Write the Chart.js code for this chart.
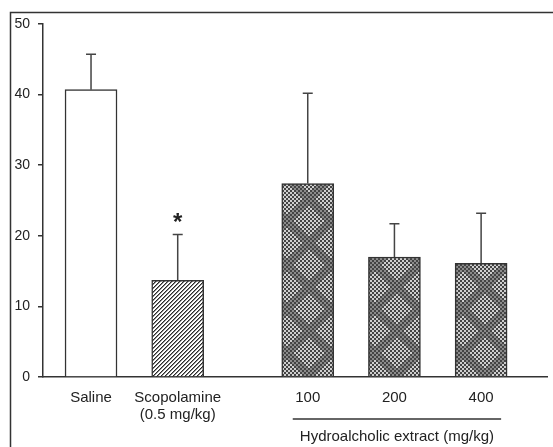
<!DOCTYPE html>
<html>
<head>
<meta charset="utf-8">
<script src="https://cdn.jsdelivr.net/npm/chart.js@4"></script>
<style>
  html, body { margin: 0; padding: 0; background: #fff; }
  #wrap { width: 553px; height: 447px; }
</style>
</head>
<body>
<div id="wrap"><canvas id="barChart" width="553" height="447"></canvas></div>
<script>
// Chart data
const groups = ['Saline', ['Scopolamine', '(0.5 mg/kg)'], '100', '200', '400'];
const slots = [0, 2, 5, 7, 9];          // category slots along x (gap before extract doses)
const means = [40.7, 13.7, 27.4, 17.0, 16.1];
const sds = [5.0, 6.5, 12.8, 4.7, 7.1];
const yTicks = [0, 10, 20, 30, 40, 50];
const groupTitle = 'Hydroalcholic extract (mg/kg)';
const significant = [false, true, false, false, false];

const ink = '#333';
const font = 'Liberation Sans, Arial, sans-serif';

// Diagonal hatch for scopolamine
function hatchPattern() {
    const c = document.createElement('canvas');
    c.width = 4; c.height = 4;
    const g = c.getContext('2d');
    g.fillStyle = '#fff';
    g.fillRect(0, 0, 4, 4);
    for (let x = 0; x < 4; x++) {
        for (let y = 0; y < 4; y++) {
            const k = (x + y) % 4;
            if (k === 0) { g.fillStyle = '#2a2a2a'; g.fillRect(x, y, 1, 1); }
            if (k === 1) { g.fillStyle = '#8a8a8a'; g.fillRect(x, y, 1, 1); }
        }
    }
    return g.createPattern(c, 'repeat');
}

// Dotted crosshatch with faint diamond motif for extract bars
function dotPattern() {
    const n = 44;
    const c = document.createElement('canvas');
    c.width = n; c.height = n;
    const g = c.getContext('2d');
    for (let x = 0; x < n; x += 2) {
        for (let y = 0; y < n; y += 2) {
            const even = ((x + y) / 2) % 2 === 0;
            const d1 = Math.abs(((x + y) % n) - n / 2);
            const d2 = Math.abs((((x - y) % n + n) % n) - n / 2);
            const band = d1 < 5 || d2 < 5;
            if (even) g.fillStyle = '#444';
            else g.fillStyle = band ? '#8c8c8c' : '#cfcfcf';
            g.fillRect(x, y, 2, 2);
        }
    }
    return g.createPattern(c, 'repeat');
}

const fills = ['#ffffff', hatchPattern(), dotPattern(), dotPattern(), dotPattern()];

// Error bars, significance star, frame and group label
const extrasPlugin = {
    id: 'extras',
    afterDatasetsDraw(chart) {
        const ctx = chart.ctx;
        const y = chart.scales.y;
        const x = chart.scales.x;
        const meta = chart.getDatasetMeta(0);
        ctx.save();
        ctx.strokeStyle = '#444';
        ctx.lineWidth = 1.5;
        meta.data.forEach((bar, i) => {
            const top = y.getPixelForValue(means[i] + sds[i]);
            ctx.beginPath();
            ctx.moveTo(bar.x, bar.y);
            ctx.lineTo(bar.x, top);
            ctx.moveTo(bar.x - 5, top);
            ctx.lineTo(bar.x + 5, top);
            ctx.stroke();
            if (significant[i]) {
                ctx.fillStyle = '#222';
                ctx.font = 'bold 24px ' + font;
                ctx.textAlign = 'center';
                ctx.textBaseline = 'middle';
                ctx.fillText('*', bar.x, top - 11);
            }
        });

        // figure frame (top and left edges)
        ctx.strokeStyle = ink;
        ctx.beginPath();
        ctx.moveTo(10.5, chart.height);
        ctx.lineTo(10.5, 12.5);
        ctx.lineTo(chart.width, 12.5);
        ctx.stroke();

        // group line and title under extract doses
        const x0 = x.getPixelForValue(slots[2]) - 15;
        const x1 = x.getPixelForValue(slots[4]) + 20;
        ctx.beginPath();
        ctx.moveTo(x0, 419);
        ctx.lineTo(x1, 419);
        ctx.stroke();
        ctx.fillStyle = '#222';
        ctx.font = '15px ' + font;
        ctx.textAlign = 'center';
        ctx.textBaseline = 'middle';
        ctx.fillText(groupTitle, (x0 + x1) / 2, 437);
        ctx.restore();
    }
};

new Chart(document.getElementById('barChart'), {
    type: 'bar',
    data: {
        datasets: [{
            data: slots.map((s, i) => ({ x: s, y: means[i] })),
            backgroundColor: fills,
            borderColor: ink,
            borderWidth: 1.5,
            barThickness: 52
        }]
    },
    options: {
        responsive: false,
        animation: false,
        layout: { padding: { top: 24, right: 6, left: 0, bottom: 0 } },
        plugins: { legend: { display: false }, tooltip: { enabled: false } },
        scales: {
            x: {
                type: 'linear',
                offset: false,
                min: -1.108,
                max: 10.52,
                grid: { display: false },
                border: { color: ink, width: 1.5 },
                afterBuildTicks: (s) => { s.ticks = slots.map(v => ({ value: v })); },
                afterFit: (s) => { s.height = 70; },
                ticks: {
                    padding: 5,
                    color: '#222',
                    font: { family: font, size: 15, lineHeight: 1.1 },
                    maxRotation: 0,
                    autoSkip: false,
                    callback: (v) => groups[slots.indexOf(v)]
                }
            },
            y: {
                min: 0,
                max: 50,
                afterBuildTicks: (s) => { s.ticks = yTicks.map(v => ({ value: v })); },
                afterFit: (s) => { s.width = 43; },
                grid: { drawOnChartArea: false, drawTicks: true, tickLength: 5, color: ink, lineWidth: 1.5 },
                border: { color: ink, width: 1.5 },
                ticks: {
                    padding: 8,
                    color: '#222',
                    font: { family: font, size: 14 }
                }
            }
        }
    },
    plugins: [extrasPlugin]
});
</script>
</body>
</html>
